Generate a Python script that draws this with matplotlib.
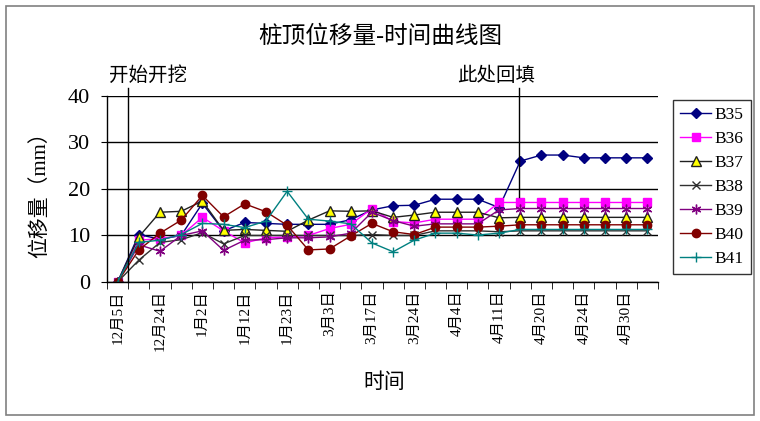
import matplotlib
matplotlib.use("Agg")
from matplotlib import pyplot as plt
from matplotlib.patches import Rectangle
import numpy as np

plt.rcParams['font.family'] = ['Liberation Serif', 'Noto Sans CJK SC']

# tick labels, one for every other observation
dates = ["12月5日", "12月24日", "1月2日", "1月12日", "1月23日", "3月3日", "3月17日",
         "3月24日", "4月4日", "4月11日", "4月20日", "4月24日", "4月30日"]

B35 = [0, 10.2, 9.2, 10.0, 16.9, 11.0, 12.8, 12.6, 12.4, 12.4, 12.4, 13.4, 15.5,
       16.4, 16.5, 17.8, 17.8, 17.8, 16.0, 26.0, 27.3, 27.3, 26.7, 26.7, 26.7, 26.7]
B36 = [0, 9.0, 9.3, 10.0, 13.9, 11.0, 8.4, 9.5, 9.7, 10.0, 11.5, 12.4, 15.8,
       13.0, 12.7, 13.5, 13.5, 13.5, 17.1, 17.1, 17.1, 17.1, 17.1, 17.1, 17.1, 17.1]
B37 = [0, 9.7, 15.0, 15.2, 17.4, 11.1, 11.3, 11.1, 10.9, 13.3, 15.3, 15.2, 15.3,
       13.9, 14.4, 15.0, 15.0, 15.0, 13.8, 13.9, 13.9, 13.9, 13.9, 13.9, 13.9, 13.9]
B38 = [0, 4.7, 8.5, 9.1, 10.6, 8.2, 10.0, 10.0, 10.0, 10.0, 10.0, 10.0, 10.2,
       10.0, 10.0, 11.0, 11.0, 11.0, 10.8, 11.0, 11.0, 11.0, 11.0, 11.0, 11.0, 11.0]
B39 = [0, 8.0, 6.6, 10.0, 11.0, 6.8, 9.0, 9.1, 9.5, 9.5, 9.7, 10.5, 15.0,
       13.2, 12.0, 12.5, 12.5, 12.5, 15.5, 15.8, 15.8, 15.8, 15.8, 15.8, 15.8, 15.8]
B40 = [0, 6.9, 10.5, 13.3, 18.6, 14.0, 16.8, 15.1, 12.2, 6.9, 7.1, 9.9, 12.6,
       10.8, 10.2, 11.8, 11.8, 11.8, 12.0, 12.3, 12.3, 12.3, 12.3, 12.3, 12.3, 12.3]
B41 = [0, 8.5, 9.0, 10.2, 12.6, 12.4, 11.7, 13.1, 19.5, 13.5, 13.1, 12.5, 8.4,
       6.5, 9.0, 10.5, 10.5, 10.1, 10.5, 11.3, 11.3, 11.3, 11.3, 11.3, 11.3, 11.3]

series = {"B35": B35, "B36": B36, "B37": B37, "B38": B38,
          "B39": B39, "B40": B40, "B41": B41}
styles = {
    "B35": dict(color="#000080", marker="D", ms=5, mfc="#000080", mec="#000080"),
    "B36": dict(color="#FF00FF", marker="s", ms=6, mfc="#FF00FF", mec="#FF00FF"),
    "B37": dict(color="#202020", marker="^", ms=7, mfc="#FFFF00", mec="#202020"),
    "B38": dict(color="#303030", marker="x", ms=6, mfc="none", mec="#303030"),
    "B39": dict(color="#800080", marker=(6, 2, 0), ms=7, mfc="none", mec="#800080"),
    "B40": dict(color="#800000", marker="o", ms=6, mfc="#800000", mec="#800000"),
    "B41": dict(color="#008080", marker="+", ms=7, mfc="none", mec="#008080"),
}

fig = plt.figure(figsize=(7.6, 4.21), dpi=100)
fig.patches.append(Rectangle((0.008, 0.014), 0.984, 0.972, transform=fig.transFigure,
                             fill=False, edgecolor="#808080", lw=1.2))

ax = fig.add_axes([0.1408, 0.3302, 0.725, 0.4418])
x = np.arange(len(B35))
for name, vals in series.items():
    ax.plot(x, vals, lw=1, label=name, **styles[name])

ax.set_xlim(-0.5, len(B35) - 0.5)
ax.set_ylim(0, 40)
ax.set_yticks([0, 10, 20, 30, 40])
ax.yaxis.grid(True, color="black", lw=1)
ax.set_axisbelow(True)
for s in ["top", "right"]:
    ax.spines[s].set_visible(False)
ax.spines["left"].set_linewidth(1)
ax.spines["bottom"].set_linewidth(1)
ax.tick_params(axis="y", labelsize=16, length=4, pad=8)

ax.set_xticks(np.arange(0, len(B35), 2))
ax.set_xticklabels(dates, rotation=90, fontsize=11)
ax.set_xticks(np.arange(-0.5, len(B35), 1), minor=True)
ax.tick_params(axis="x", which="major", length=0, pad=6)
ax.tick_params(axis="x", which="minor", length=5)

# construction markers
ax.plot([0.5, 0.5], [0, 41.8], color="black", lw=1, clip_on=False)
ax.plot([18.93, 18.93], [18.3, 41.8], color="black", lw=1, clip_on=False)
ax.text(-0.4, 44.3, "开始开挖", fontsize=14, va="center", ha="left")
ax.text(16.0, 44.3, "此处回填", fontsize=14, va="center", ha="left")

fig.text(0.5, 0.912, "桩顶位移量-时间曲线图", fontsize=17, ha="center", va="center")
fig.text(0.053, 0.55, "位移量（mm）", fontsize=15, rotation=90, ha="center", va="center")
fig.text(0.505, 0.09, "时间", fontsize=15, ha="center", va="center")

leg = fig.legend(loc="upper left", bbox_to_anchor=(0.8855, 0.7625), fontsize=12.5,
                 frameon=True, fancybox=False, edgecolor="black", handlelength=1.8,
                 labelspacing=0.45, borderpad=0.4, handletextpad=0.2, borderaxespad=0)
leg.get_frame().set_linewidth(1)

fig.savefig("out.png", dpi=100, facecolor="white")
